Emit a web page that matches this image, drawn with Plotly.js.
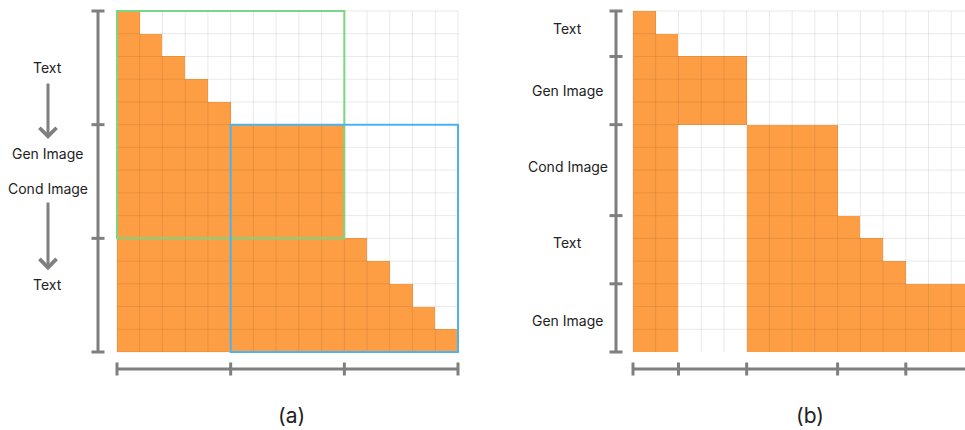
<!DOCTYPE html>
<html><head><meta charset="utf-8">
<script src="https://cdn.plot.ly/plotly-3.0.1.min.js"></script>
<style>html,body{margin:0;padding:0;background:#fff}#chart{width:965px;height:430px}</style>
</head><body><div id="chart"></div>
<script>
// ---------- data ----------
const maskA = [
  "100000000000000",
  "110000000000000",
  "111000000000000",
  "111100000000000",
  "111110000000000",
  "111111111100000",
  "111111111100000",
  "111111111100000",
  "111111111100000",
  "111111111100000",
  "111111111110000",
  "111111111111000",
  "111111111111100",
  "111111111111110",
  "111111111111111"
];
const segSizesA = [5, 5, 5];
const labelsA = ["Text", "Gen Image", "Cond Image", "Text"];
const labelRowsA = [2.0, 5.79, 7.29, 11.55];
const arrowRowsA = [[2.62, 5.13], [7.86, 10.9]];
const greenBox = [0, 9, 0, 9];   // col from, col to, row from, row to
const blueBox = [5, 14, 5, 14];

const maskB = [
  "100000000000000",
  "110000000000000",
  "111110000000000",
  "111110000000000",
  "111110000000000",
  "110001111000000",
  "110001111000000",
  "110001111000000",
  "110001111000000",
  "110001111100000",
  "110001111110000",
  "110001111111000",
  "110001111111111",
  "110001111111111",
  "110001111111111"
];
const segSizesB = [2, 3, 4, 3, 3];
const labelsB = ["Text", "Gen Image", "Cond Image", "Text", "Gen Image"];
const labelRowsB = [0.29, 3.0, 6.36, 9.7, 13.1];
const captions = ["(a)", "(b)"];

// ---------- geometry ----------
const W = 965, H = 430;
const N = 15;
const cell = 341 / N;
const top0 = 11;
const leftA = 117, leftB = 633;
const orange = "rgb(253,158,68)";
const gray = "#7f7f7f";

const toZ = m => m.map(r => r.split("").map(Number));
const idx = Array.from({length: N}, (_, i) => i);

const px = p => p / W;
const py = p => 1 - p / H;
const colPx = (left, k) => left + k * cell;   // boundary k
const rowPx = k => top0 + k * cell;
const rowCenterPx = v => top0 + (v + 0.5) * cell;

const traces = [
  {type: "heatmap", z: toZ(maskA), x: idx, y: idx, xaxis: "x", yaxis: "y",
   colorscale: [[0, "#ffffff"], [1, orange]], zmin: 0, zmax: 1, showscale: false, hoverinfo: "skip"},
  {type: "heatmap", z: toZ(maskB), x: idx, y: idx, xaxis: "x2", yaxis: "y2",
   colorscale: [[0, "#ffffff"], [1, orange]], zmin: 0, zmax: 1, showscale: false, hoverinfo: "skip"}
];

const shapes = [];
const annotations = [];
const gridCol = "rgba(0,0,0,0.085)";

function gridFor(left) {
  const right = Math.min(colPx(left, N), W);
  for (let k = 0; k <= N; k++) {
    const x = colPx(left, k);
    if (x > W) continue;
    shapes.push({type: "line", xref: "paper", yref: "paper", layer: "above",
      x0: px(x), x1: px(x), y0: py(rowPx(0)), y1: py(rowPx(N)), line: {color: gridCol, width: 1}});
    shapes.push({type: "line", xref: "paper", yref: "paper", layer: "above",
      x0: px(left), x1: px(right), y0: py(rowPx(k)), y1: py(rowPx(k)), line: {color: gridCol, width: 1}});
  }
}
gridFor(leftA);
gridFor(leftB);

function box(b, color) {
  shapes.push({type: "rect", xref: "paper", yref: "paper", layer: "above",
    x0: px(colPx(leftA, b[0])), x1: px(colPx(leftA, b[1] + 1)),
    y0: py(rowPx(b[2])), y1: py(rowPx(b[3] + 1)),
    line: {color: color, width: 2}, fillcolor: "rgba(0,0,0,0)"});
}
box(greenBox, "rgb(122,214,132)");
box(blueBox, "rgb(77,178,242)");

function brackets(left, sizes, axisX) {
  const bounds = [0];
  sizes.forEach(s => bounds.push(bounds[bounds.length - 1] + s));
  const ln = {color: gray, width: 3};
  shapes.push({type: "line", xref: "paper", yref: "paper", x0: px(axisX), x1: px(axisX),
    y0: py(rowPx(0)), y1: py(rowPx(N)), line: ln});
  bounds.forEach(k => shapes.push({type: "line", xref: "paper", yref: "paper",
    x0: px(axisX - 6.5), x1: px(axisX + 6.5), y0: py(rowPx(k)), y1: py(rowPx(k)), line: ln}));
  const yb = 369;
  const xEnd = Math.min(colPx(left, N), W);
  shapes.push({type: "line", xref: "paper", yref: "paper", x0: px(colPx(left, 0)), x1: px(xEnd),
    y0: py(yb), y1: py(yb), line: ln});
  bounds.forEach(k => {
    const x = colPx(left, k);
    if (x > W) return;
    shapes.push({type: "line", xref: "paper", yref: "paper", x0: px(x), x1: px(x),
      y0: py(yb - 6.5), y1: py(yb + 6.5), line: ln});
  });
}
brackets(leftA, segSizesA, 98);
brackets(leftB, segSizesB, 616);

const lblFont = {family: "Inter, 'Noto Sans', sans-serif", size: 14, color: "#222"};
labelsA.forEach((t, i) => annotations.push({xref: "paper", yref: "paper", x: px(47.5),
  y: py(rowCenterPx(labelRowsA[i])), text: t, showarrow: false, font: lblFont, xanchor: "center", yanchor: "middle"}));
labelsB.forEach((t, i) => annotations.push({xref: "paper", yref: "paper", x: px(567.5),
  y: py(rowCenterPx(labelRowsB[i])), text: t, showarrow: false, font: lblFont, xanchor: "center", yanchor: "middle"}));
arrowRowsA.forEach(a => {
  const y0 = rowCenterPx(a[0]), y1 = rowCenterPx(a[1]);
  annotations.push({xref: "paper", yref: "paper", x: px(48), y: py(y1), ax: 0, ay: -(y1 - y0),
    text: "", showarrow: true, arrowhead: 4, arrowsize: 1.1, arrowwidth: 3, arrowcolor: gray});
});
const capFont = {family: "Inter, 'Noto Sans', sans-serif", size: 21, color: "#222"};
annotations.push({xref: "paper", yref: "paper", x: px(291), y: py(415), text: captions[0], showarrow: false,
  font: capFont, xanchor: "center", yanchor: "middle"});
annotations.push({xref: "paper", yref: "paper", x: px(810), y: py(415), text: captions[1], showarrow: false,
  font: capFont, xanchor: "center", yanchor: "middle"});

const hidden = {showgrid: false, zeroline: false, showticklabels: false, ticks: "", showline: false, fixedrange: true};
const yDom = [py(rowPx(N)), py(rowPx(0))];
const layout = {
  width: W, height: H, margin: {l: 0, r: 0, t: 0, b: 0},
  paper_bgcolor: "#fff", plot_bgcolor: "#fff", showlegend: false,
  xaxis: Object.assign({}, hidden, {domain: [px(leftA), px(colPx(leftA, N))], range: [-0.5, N - 0.5], anchor: "y"}),
  yaxis: Object.assign({}, hidden, {domain: yDom, range: [N - 0.5, -0.5], anchor: "x"}),
  xaxis2: Object.assign({}, hidden, {domain: [px(leftB), 1], range: [-0.5, -0.5 + (W - leftB) / cell], anchor: "y2"}),
  yaxis2: Object.assign({}, hidden, {domain: yDom, range: [N - 0.5, -0.5], anchor: "x2"}),
  shapes: shapes, annotations: annotations
};
Plotly.newPlot("chart", traces, layout, {displayModeBar: false, staticPlot: true});
</script>
</body></html>
